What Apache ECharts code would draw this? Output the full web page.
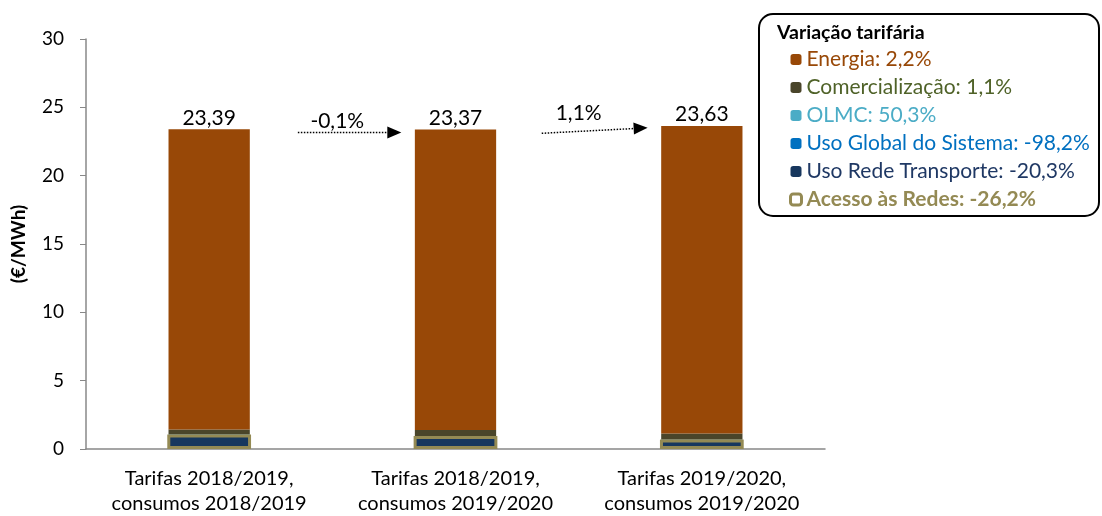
<!DOCTYPE html>
<html>
<head>
<meta charset="utf-8">
<script src="https://cdn.jsdelivr.net/npm/echarts@6/dist/echarts.min.js"></script>
<style>
  html, body { margin: 0; padding: 0; background: #fff; }
  #chart { width: 1102px; height: 516px; }
</style>
</head>
<body>
<div id="chart"></div>
<script>
  var categories = ['Tarifas 2018/2019,\nconsumos 2018/2019', 'Tarifas 2018/2019,\nconsumos 2019/2020', 'Tarifas 2019/2020,\nconsumos 2019/2020'];
  var usoRedeTransporte = [1.02, 0.90, 0.67];
  var usoGlobalSistema = [0.03, 0.03, 0.00];
  var olmc = [0.02, 0.02, 0.03];
  var comercializacao = [0.36, 0.44, 0.44];
  var energia = [21.96, 21.98, 22.49];
  var acessoRedes = [1.07, 0.95, 0.70];
  var totals = ['23,39', '23,37', '23,63'];
  var yTicks = [0, 5, 10, 15, 20, 25, 30];
  // legend text: series name + tariff change
  var variacoes = {
    'Energia': '2,2%',
    'Comercialização': '1,1%',
    'OLMC': '50,3%',
    'Uso Global do Sistema': '-98,2%',
    'Uso Rede Transporte': '-20,3%',
    'Acesso às Redes': '-26,2%'
  };
  // arrows between bars: from [cat pos, value], to [cat pos, value], label at [cat pos, value]
  var arrowFrom = [[0.36, 23.15], [1.35, 23.1]];
  var arrowTo = [[0.78, 23.15], [1.78, 23.5]];
  var arrowLabelAt = [[0.52, 24.0], [1.50, 24.6]];
  var arrowLabels = ['-0,1%', '1,1%'];

  var font = 'Lato, "Open Sans", sans-serif';
  var myChart = echarts.init(document.getElementById('chart'));

  function stackBar(name, data, color) {
    return {
      name: name,
      type: 'bar',
      stack: 'total',
      barWidth: '33%',
      data: data,
      itemStyle: { color: color },
      emphasis: { disabled: true }
    };
  }

  var energiaSeries = stackBar('Energia', energia, '#984807');
  energiaSeries.label = {
    show: true,
    position: 'top',
    distance: 1,
    color: '#000',
    fontSize: 21,
    fontFamily: font,
    formatter: function (p) { return totals[p.dataIndex]; }
  };

  var option = {
    animation: false,
    textStyle: { fontFamily: font },
    grid: { left: 86, right: 277, top: 39, bottom: 67 },
    legend: {
      orient: 'vertical',
      left: 784,
      top: 44,
      itemWidth: 11,
      itemHeight: 11,
      itemGap: 7,
      selectedMode: false,
      textStyle: { fontSize: 21, fontFamily: font },
      formatter: function (name) { return name + ': ' + variacoes[name]; },
      data: [
        { name: 'Energia', textStyle: { color: '#984807' } },
        { name: 'Comercialização', textStyle: { color: '#4F6228' } },
        { name: 'OLMC', textStyle: { color: '#4BACC6' } },
        { name: 'Uso Global do Sistema', textStyle: { color: '#0070C0' } },
        { name: 'Uso Rede Transporte', textStyle: { color: '#1F3864' } },
        { name: 'Acesso às Redes', textStyle: { color: '#948A54', fontWeight: 'bold' },
          itemStyle: { color: '#fff', borderColor: '#948A54', borderWidth: 3 } }
      ]
    },
    xAxis: [{
      type: 'category',
      data: categories,
      axisTick: { show: false },
      axisLine: { lineStyle: { color: '#888', width: 1.5 } },
      axisLabel: { color: '#000', fontSize: 20, lineHeight: 25, margin: 17, interval: 0, fontFamily: font }
    }, {
      type: 'category',
      data: categories,
      show: false
    }],
    yAxis: {
      type: 'value',
      min: yTicks[0],
      max: yTicks[yTicks.length - 1],
      interval: 5,
      name: '(€/MWh)',
      nameLocation: 'middle',
      nameGap: 58,
      nameRotate: 90,
      nameTextStyle: { color: '#000', fontSize: 19, fontWeight: 'bold', fontFamily: font },
      splitLine: { show: false },
      axisLine: { show: true, lineStyle: { color: '#888', width: 1.5 } },
      axisTick: { show: true, length: 6, lineStyle: { color: '#888' } },
      axisLabel: { color: '#000', fontSize: 19, margin: 22, fontFamily: font }
    },
    series: [
      stackBar('Uso Rede Transporte', usoRedeTransporte, '#17375E'),
      stackBar('Uso Global do Sistema', usoGlobalSistema, '#0070C0'),
      stackBar('OLMC', olmc, '#4BACC6'),
      stackBar('Comercialização', comercializacao, '#4A452A'),
      energiaSeries,
      {
        name: 'Acesso às Redes',
        type: 'bar',
        xAxisIndex: 1,
        barWidth: '34%',
        z: 3,
        data: acessoRedes,
        itemStyle: { color: 'rgba(0,0,0,0)', borderColor: '#948A54', borderWidth: 3 },
        emphasis: { disabled: true }
      }
    ]
  };
  myChart.setOption(option);

  // legend box, title and the dotted arrows
  function catX(pos) {
    var i = Math.floor(pos);
    var x0 = myChart.convertToPixel({ xAxisIndex: 0 }, i);
    var x1 = myChart.convertToPixel({ xAxisIndex: 0 }, i + 1);
    return x0 + (x1 - x0) * (pos - i);
  }
  function valY(v) {
    return myChart.convertToPixel({ yAxisIndex: 0 }, v);
  }

  var graphics = [
    {
      type: 'rect',
      shape: { x: 759, y: 14, width: 340, height: 202, r: 14 },
      style: { fill: 'none', stroke: '#000', lineWidth: 2 }
    },
    {
      type: 'text',
      x: 777, y: 23,
      style: { text: 'Variação tarifária', fill: '#000', font: 'bold 19.5px ' + font }
    }
  ];
  arrowFrom.forEach(function (f, k) {
    var t = arrowTo[k];
    var x1 = catX(f[0]), y1 = valY(f[1]), x2 = catX(t[0]), y2 = valY(t[1]);
    var ang = Math.atan2(y2 - y1, x2 - x1);
    var L = 14, W = 6;
    var bx = x2 - L * Math.cos(ang), by = y2 - L * Math.sin(ang);
    graphics.push({
      type: 'line',
      shape: { x1: x1, y1: y1, x2: bx, y2: by },
      style: { stroke: '#000', lineWidth: 1.5, lineDash: [1.5, 1.5] }
    });
    graphics.push({
      type: 'polygon',
      shape: { points: [
        [x2, y2],
        [bx + W * Math.sin(ang), by - W * Math.cos(ang)],
        [bx - W * Math.sin(ang), by + W * Math.cos(ang)]
      ] },
      style: { fill: '#000' }
    });
    var lp = arrowLabelAt[k];
    graphics.push({
      type: 'text',
      x: catX(lp[0]), y: valY(lp[1]),
      style: { text: arrowLabels[k], fill: '#000', font: '21px ' + font, textAlign: 'center', textVerticalAlign: 'middle' }
    });
  });
  myChart.setOption({ graphic: graphics });
</script>
</body>
</html>
